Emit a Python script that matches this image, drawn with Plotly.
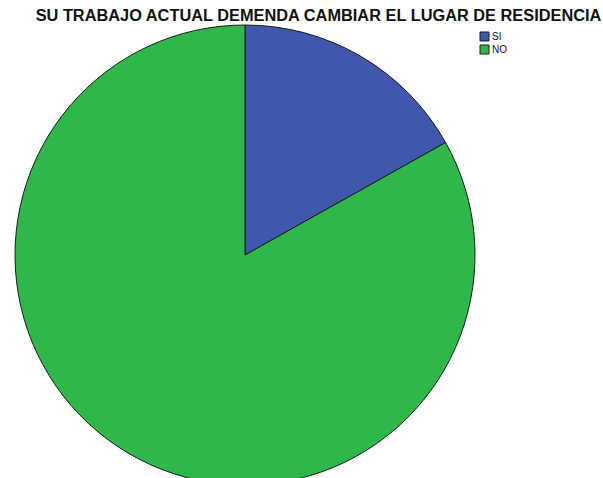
import plotly.graph_objects as go

categories = ["SI", "NO"]
values = [14, 69]
colors = ["#3E58AC", "#2EB84A"]

W, H = 603, 490
cx, cy, r = 245, 255, 230

fig = go.Figure(go.Pie(
    labels=categories,
    values=values,
    marker=dict(colors=colors, line=dict(color="#1a1a1a", width=1)),
    sort=False,
    direction="clockwise",
    rotation=0,
    textinfo="none",
    hoverinfo="label+value+percent",
    showlegend=False,
    domain=dict(x=[(cx - r) / W, (cx + r) / W], y=[1 - (cy + r) / H, 1 - (cy - r) / H]),
))

# compact legend (SPSS style) built from the categories
shapes, annotations = [], []
lx, ly0, box, step = 480, 32, 9, 13
for i, (cat, col) in enumerate(zip(categories, colors)):
    top = ly0 + i * step
    shapes.append(dict(type="rect", xref="paper", yref="paper",
                       x0=lx / W, x1=(lx + box) / W,
                       y0=1 - (top + box) / H, y1=1 - top / H,
                       fillcolor=col, line=dict(color="#1a1a1a", width=1)))
    annotations.append(dict(text=cat, xref="paper", yref="paper",
                            x=(lx + box + 1) / W, y=1 - (top + box / 2) / H,
                            xanchor="left", yanchor="middle", showarrow=False,
                            font=dict(family="Liberation Sans, Arial", size=10, color="#111111")))

fig.update_layout(
    width=W, height=H,
    margin=dict(l=0, r=0, t=0, b=0),
    paper_bgcolor="white",
    plot_bgcolor="white",
    title=dict(
        text="<b>SU TRABAJO ACTUAL DEMENDA CAMBIAR EL LUGAR DE RESIDENCIA</b>",
        font=dict(family="Liberation Sans, Arial", size=16.35, color="#111111"),
        x=318.5 / W, xanchor="center", y=1 - 15 / H, yanchor="middle",
    ),
    shapes=shapes,
    annotations=annotations,
    showlegend=False,
)

fig.write_html("out.html", config={"displayModeBar": False},
               post_script="document.body.style.overflow='hidden';document.documentElement.style.overflow='hidden';document.body.style.margin='0';")
